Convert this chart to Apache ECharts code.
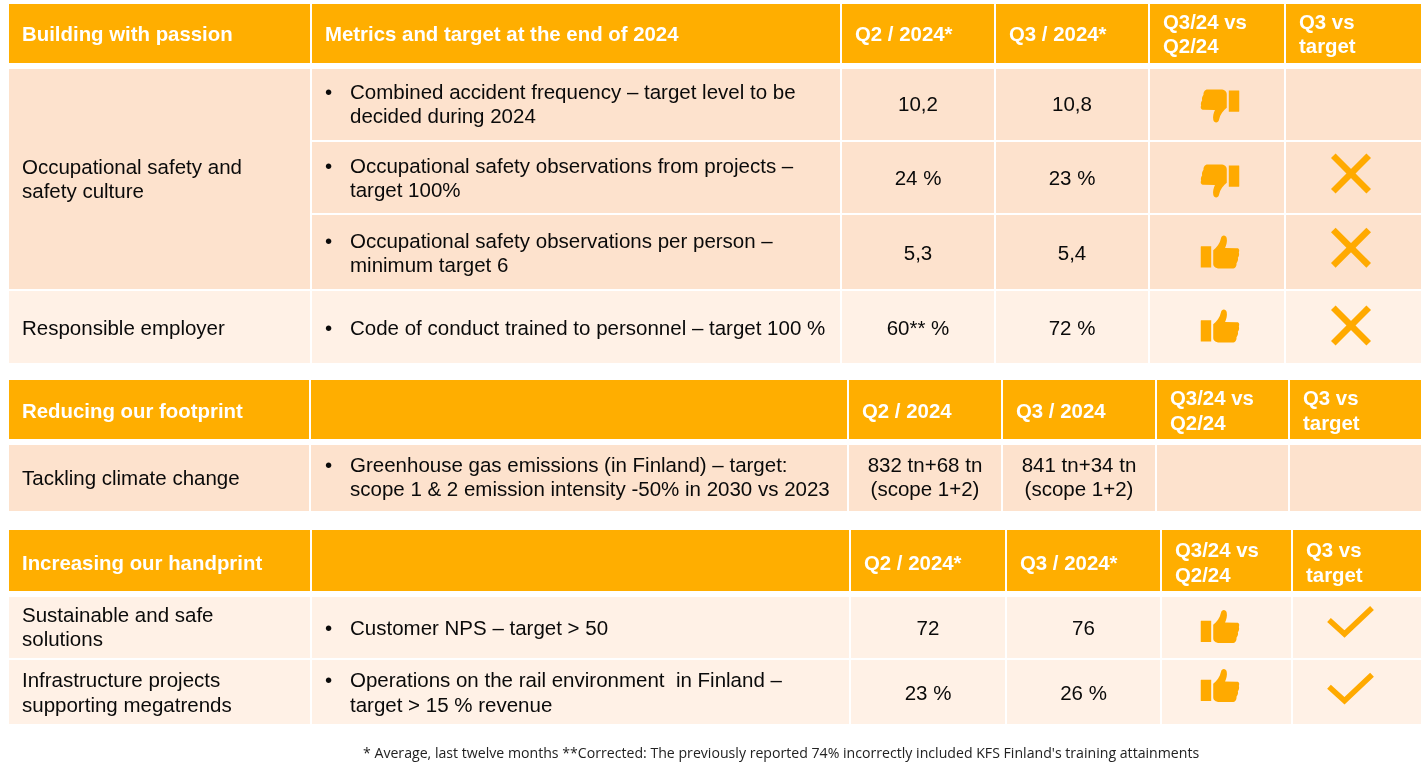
<!DOCTYPE html>
<html><head><meta charset="utf-8">
<style>html,body{margin:0;padding:0;background:#fff}#c{width:1427px;height:765px}</style>
<script src="https://cdn.jsdelivr.net/npm/echarts@6/dist/echarts.min.js"></script>
</head><body><div id="c"></div>
<script>
// ---- content ----
const headers1 = ['Building with passion', 'Metrics and target at the end of 2024', 'Q2 / 2024*', 'Q3 / 2024*', 'Q3/24 vs\nQ2/24', 'Q3 vs\ntarget'];
const headers2 = ['Reducing our footprint', '', 'Q2 / 2024', 'Q3 / 2024', 'Q3/24 vs\nQ2/24', 'Q3 vs\ntarget'];
const headers3 = ['Increasing our handprint', '', 'Q2 / 2024*', 'Q3 / 2024*', 'Q3/24 vs\nQ2/24', 'Q3 vs\ntarget'];
const themes1 = ['Occupational safety and\nsafety culture', 'Responsible employer'];
const themes2 = ['Tackling climate change'];
const themes3 = ['Sustainable and safe\nsolutions', 'Infrastructure projects\nsupporting megatrends'];
const metrics1 = ['Combined accident frequency – target level to be\ndecided during 2024', 'Occupational safety observations from projects –\ntarget 100%', 'Occupational safety observations per person –\nminimum target 6', 'Code of conduct trained to personnel – target 100 %'];
const metrics2 = ['Greenhouse gas emissions (in Finland) – target:\nscope 1 & 2 emission intensity -50% in 2030 vs 2023'];
const metrics3 = ['Customer NPS – target > 50', 'Operations on the rail environment  in Finland –\ntarget > 15 % revenue'];
const q2Values1 = ['10,2', '24 %', '5,3', '60** %'];
const q3Values1 = ['10,8', '23 %', '5,4', '72 %'];
const q2Values2 = ['832 tn+68 tn\n(scope 1+2)'];
const q3Values2 = ['841 tn+34 tn\n(scope 1+2)'];
const q2Values3 = ['72', '23 %'];
const q3Values3 = ['76', '26 %'];
const trend1 = ['down', 'down', 'up', 'up'];
const trend2 = [''];
const trend3 = ['up', 'up'];
const target1 = ['', 'cross', 'cross', 'cross'];
const target2 = [''];
const target3 = ['check', 'check'];
const footnote = "* Average, last twelve months **Corrected: The previously reported 74% incorrectly included KFS Finland's training attainments";

// ---- layout ----
const colsA = [[9,310],[312,840],[842,994],[996,1148],[1150,1284],[1286,1421]];
const colsB = [[9,309],[311,847],[849,1001],[1003,1155],[1157,1288],[1290,1421]];
const colsC = [[9,310],[312,849],[851,1005],[1007,1160],[1162,1291],[1293,1421]];
const rowsA = [[69,140],[142,213],[215,289],[291,363]];
const rowsB = [[445,511]];
const rowsC = [[597,658],[660,724]];
const textNudgeA = [1.5, 2.5, 3, 2.5];
const textNudgeC = [2, 2.5];
const thumbYA = [106, 181, 252, 326];
const thumbYC = [626.5, 685.5];
const crossYA = [0, 173.5, 247.7, 325.5];
const checkYC = [635, 701.7];
const thumbX = 1220, markX = 1351;
const orange = '#FFAE00', peach = '#FDE2CD', cream = '#FFF1E6', icon = '#FFAA00';
const BODY = '20.5px "Liberation Sans", Arial, sans-serif';
const HEAD = 'bold 20.4px "Liberation Sans", Arial, sans-serif';
const THUMB = 'M1 32H31V95H1Q0 95 0 94V33Q0 32 1 32ZM37 44C47 36 57 24 60 8C62 -3 75 -3 77 8C79 18 76 28 72 37L108 38C115 38 115 46 113 50C115 56 113 62 110 66C112 72 109 78 106 82C107 90 102 98 94 98L55 98C44 98 37 92 37 84Z';

const cells = [];
function addHeader(cols, y0, y1, labels, dy) {
  cols.forEach((c, i) => cells.push({ x0: c[0], x1: c[1], y0, y1, fill: orange, text: labels[i], head: true, tx: 'left', dy }));
}
function addRow(cols, r, fill, metric, q2, q3, tr, tg, dy, mY, dx) {
  [1,2,3,4,5].forEach(i => {
    const c = { x0: cols[i][0], x1: cols[i][1], y0: r[0], y1: r[1], fill, dy };
    if (i === 1) { c.text = metric; c.bullet = true; c.tx = 'left'; c.dx = dx || 0; }
    if (i === 2) { c.text = q2; c.tx = 'center'; }
    if (i === 3) { c.text = q3; c.tx = 'center'; }
    if (i === 4) { c.mark = tr; c.my = mY && mY[0]; }
    if (i === 5) { c.mark = tg; c.my = mY && mY[1]; }
    cells.push(c);
  });
}
function addTheme(cols, y0, y1, fill, text, dy) {
  cells.push({ x0: cols[0][0], x1: cols[0][1], y0, y1, fill, text, tx: 'left', dy });
}
addHeader(colsA, 4, 63, headers1, 2.5);
addTheme(colsA, 69, 289, peach, themes1[0], 2);
addTheme(colsA, 291, 363, cream, themes1[1], 2.5);
rowsA.forEach((r, i) => addRow(colsA, r, i < 3 ? peach : cream, metrics1[i], q2Values1[i], q3Values1[i], trend1[i], target1[i], textNudgeA[i], [thumbYA[i], crossYA[i]]));
addHeader(colsB, 380, 439, headers2, 3);
addTheme(colsB, 445, 511, peach, themes2[0], 1.5);
addRow(colsB, rowsB[0], peach, metrics2[0], q2Values2[0], q3Values2[0], trend2[0], target2[0], 1, null, 1);
addHeader(colsC, 530, 591, headers3, 4);
rowsC.forEach((r, i) => {
  addTheme(colsC, r[0], r[1], cream, themes3[i], i ? 2.5 : 1.5);
  addRow(colsC, r, cream, metrics3[i], q2Values3[i], q3Values3[i], trend3[i], target3[i], textNudgeC[i], [thumbYC[i], checkYC[i]]);
});

function renderCell(params, api) {
  const d = cells[params.dataIndex];
  const p0 = api.coord([api.value(0), api.value(2)]);
  const p1 = api.coord([api.value(1), api.value(3)]);
  const w = p1[0] - p0[0], h = p1[1] - p0[1];
  const cy = p0[1] + h / 2, cx = p0[0] + w / 2;
  const ch = [{ type: 'rect', shape: { x: p0[0], y: p0[1], width: w, height: h }, style: { fill: d.fill } }];
  if (d.text) {
    let tx = d.tx === 'center' ? cx : p0[0] + 13 + (d.dx || 0);
    const ty = cy + (d.dy || 0) - 0.5;
    if (d.bullet) {
      const firstY = d.text.includes('\n') ? ty - 12.3 : ty;
      ch.push({ type: 'text', style: { x: tx, y: firstY, text: '•', font: BODY, fill: '#0a0a0a', align: 'left', verticalAlign: 'middle' } });
      tx += 25;
    }
    ch.push({ type: 'text', style: { x: tx, y: ty, text: d.text, font: d.head ? HEAD : BODY, fill: d.head ? '#FFFFFF' : '#0a0a0a', align: d.tx, verticalAlign: 'middle', lineHeight: 24.6 } });
  }
  if (d.mark === 'up' || d.mark === 'down') {
    const bw = 38.5, bh = 33.5;
    ch.push({ type: 'path', shape: { pathData: THUMB, x: thumbX - bw / 2, y: d.my - bh / 2, width: bw, height: bh },
      rotation: d.mark === 'down' ? Math.PI : 0, originX: thumbX, originY: d.my, style: { fill: icon } });
  }
  if (d.mark === 'cross') {
    const r = 17.7;
    ch.push({ type: 'line', shape: { x1: markX - r, y1: d.my - r, x2: markX + r, y2: d.my + r }, style: { stroke: icon, lineWidth: 6.5 } });
    ch.push({ type: 'line', shape: { x1: markX - r, y1: d.my + r, x2: markX + r, y2: d.my - r }, style: { stroke: icon, lineWidth: 6.5 } });
  }
  if (d.mark === 'check') {
    ch.push({ type: 'polyline', shape: { points: [[markX - 22, d.my - 15], [markX - 6.5, d.my - 1], [markX + 21, d.my - 27]] }, style: { stroke: icon, fill: null, lineWidth: 5.5 } });
  }
  return { type: 'group', children: ch };
}

const chart = echarts.init(document.getElementById('c'), null, { renderer: 'canvas', width: 1427, height: 765 });
chart.setOption({
  animation: false,
  backgroundColor: '#fff',
  grid: { left: 0, right: 0, top: 0, bottom: 0 },
  xAxis: { type: 'value', min: 0, max: 1427, show: false },
  yAxis: { type: 'value', min: 0, max: 765, inverse: true, show: false },
  title: { text: footnote, left: 363, top: 747, padding: 0, textStyle: { fontFamily: '"Open Sans"', fontSize: 14.13, fontWeight: 'normal', color: '#222' } },
  series: [{
    type: 'custom', silent: true, clip: false, coordinateSystem: 'cartesian2d',
    renderItem: renderCell,
    encode: { x: [0, 1], y: [2, 3] },
    data: cells.map(c => [c.x0, c.x1, c.y0, c.y1])
  }]
});
</script></body></html>
